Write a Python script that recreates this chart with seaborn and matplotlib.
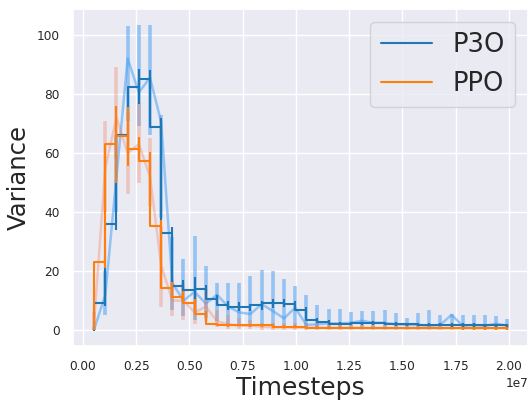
import numpy as np
import pandas as pd
import matplotlib
matplotlib.use("Agg")
import matplotlib.pyplot as plt
import seaborn as sns

# Logging interval of the training runs (2**19 environment steps per update)
timesteps = [524288 * k for k in range(1, 39)]

# Raw per-update variance (mean) with spread across seeds (low / high)
p3o_raw = [0.3, 12, 52, 92, 80.5, 85.5, 70.5, 16, 10, 13, 9, 12, 8, 6, 5.5,
           8.8, 6.5, 4.0, 7.6, 1.8, 2.0, 2.3, 2.3, 2.5, 3.2, 2.5, 2.5, 2.0,
           1.8, 1.8, 1.5, 1.8, 5.2, 1.5, 1.8, 1.5, 2.2, 1.5]
p3o_raw_lo = [0, 5, 40, 71, 69, 66, 38, 7, 4.7, 3.6, 4, 3, 1.4, 1.5, 1.5,
              1.5, 1.5, 1, 1, 0.8, 0.8, 0.8, 0.8, 0.8, 0.8, 0.8, 0.8, 0.8,
              0.8, 0.8, 0.8, 0.8, 0.8, 0.8, 0.8, 0.8, 0.8, 0.8]
p3o_raw_hi = [1, 20, 66, 103, 103.5, 103.5, 73, 31.7, 24, 32, 21.6, 16, 16,
              16, 18.5, 20.5, 20, 17.5, 15, 12, 8.4, 7.1, 7.1, 6, 6.6, 6.5,
              6.8, 5.8, 4, 5.7, 6.8, 5.1, 5.4, 5.1, 5.2, 5.1, 4.7, 3.8]

ppo_raw = [3, 55, 72, 60, 63, 52, 22, 10, 10, 6, 8, 3, 2, 1.5, 1.5, 1.2,
           1.0, 1.0, 0.9, 0.9, 0.8, 0.8, 0.8, 0.8, 0.8, 0.7, 0.7, 0.7, 0.7,
           0.7, 0.7, 0.7, 0.7, 0.7, 0.7, 0.7, 0.7, 0.7]
ppo_raw_lo = [0, 40, 58, 46, 50, 42, 8, 4.7, 3.6, 2, 3, 1, 0.5, 0.5, 0.3,
              0.2, 0.2, 0.2, 0.2, 0.2, 0.2, 0.2, 0.2, 0.2, 0.2, 0.2, 0.2,
              0.2, 0.2, 0.2, 0.2, 0.2, 0.2, 0.2, 0.2, 0.2, 0.2, 0.2]
ppo_raw_hi = [6, 71, 89, 74, 77, 65, 35, 17, 16, 12, 14, 7, 5, 4, 3.5, 2.5,
              2.5, 2.5, 2.3, 2.3, 2.2, 2.2, 2.2, 2.0, 2.0, 2.0, 2.0, 2.0,
              2.0, 2.0, 2.0, 2.0, 2.0, 2.0, 2.0, 2.0, 2.0, 2.0]

# Aggregated variance over all seeds, with its (small) spread
p3o_agg = [0, 9.2, 36, 66, 82.5, 85, 68.7, 33, 15, 13.6, 13.8, 10.4, 8.4,
           8.0, 7.7, 8.5, 9.1, 9.2, 8.8, 6.8, 3.4, 2.8, 2.2, 2.2, 2.3, 2.4,
           2.3, 2.1, 2.0, 2.0, 1.9, 1.9, 1.8, 1.7, 1.7, 1.6, 1.6, 1.6]
p3o_agg_err = [0.3, 1, 2, 3, 6, 3, 3, 2, 2, 4.5, 1.5, 1.5, 1.5, 1.5, 1.2,
               1.5, 1.5, 1.5, 1.2, 1, 0.8, 0.6, 0.6, 0.6, 0.6, 0.6, 0.6,
               0.6, 0.6, 0.6, 0.6, 0.6, 0.6, 0.6, 0.6, 0.6, 0.6, 0.6]
ppo_agg = [1.5, 23, 63, 65.7, 61.5, 57.3, 35.2, 14.3, 11.2, 9.2, 5.4, 2.1,
           1.6, 1.7, 1.6, 1.6, 1.6, 1.2, 1.2, 1.0, 0.9, 0.9, 0.9, 0.8, 0.8,
           0.8, 0.8, 0.7, 0.7, 0.7, 0.7, 0.7, 0.7, 0.6, 0.6, 0.6, 0.6, 0.6]
ppo_agg_err = [1.5, 2, 13, 10, 4, 3, 2, 2, 2, 1.5, 1, 0.5, 0.4, 0.4, 0.4,
               0.4, 0.4, 0.4, 0.4, 0.4, 0.4, 0.4, 0.4, 0.4, 0.4, 0.4, 0.4,
               0.4, 0.4, 0.4, 0.4, 0.4, 0.4, 0.4, 0.4, 0.4, 0.4, 0.4]

algorithms = ["P3O", "PPO"]
dark_colors = {"P3O": "#1f77b4", "PPO": "#ff7f0e"}
light_colors = {"P3O": "#3d9bf5", "PPO": "#f08060"}
light_alpha = {"P3O": 0.5, "PPO": 0.35}

sns.set_theme(style="darkgrid")
plt.rcParams["font.family"] = ["DejaVu Sans"]

fig = plt.figure(figsize=(5.28, 4.0), dpi=100)
ax = fig.add_axes([0.1392, 0.134, 0.8608, 0.843])

raw = {"P3O": (p3o_raw, p3o_raw_lo, p3o_raw_hi),
       "PPO": (ppo_raw, ppo_raw_lo, ppo_raw_hi)}
agg = {"P3O": (p3o_agg, p3o_agg_err), "PPO": (ppo_agg, ppo_agg_err)}

# Raw curves with seed spread, drawn faint underneath
for algo in algorithms:
    mean, lo, hi = raw[algo]
    sns.lineplot(x=timesteps, y=mean, ax=ax, color=light_colors[algo],
                 alpha=light_alpha[algo], linewidth=1.8, legend=False)
    ax.vlines(timesteps, lo, hi, color=light_colors[algo],
              alpha=light_alpha[algo], linewidth=2.6)

# Aggregated step curves on top
agg_df = pd.concat([
    pd.DataFrame({"Timesteps": timesteps, "Variance": agg[a][0], "algo": a})
    for a in algorithms
], ignore_index=True)
sns.lineplot(data=agg_df, x="Timesteps", y="Variance", hue="algo",
             hue_order=algorithms, palette=dark_colors, drawstyle="steps-pre",
             linewidth=1.5, ax=ax)
for algo in algorithms:
    vals, err = agg[algo]
    vals = np.asarray(vals)
    err = np.asarray(err)
    ax.vlines(timesteps, vals - err, vals + err, color=dark_colors[algo],
              linewidth=1.5)

ax.set_yticks([0, 20, 40, 60, 80, 100])
ax.set_xticks([0, 2.5e6, 5e6, 7.5e6, 1e7, 1.25e7, 1.5e7, 1.75e7, 2e7])
ax.tick_params(axis="both", labelsize=8.7, pad=4)
ax.xaxis.get_offset_text().set_fontsize(8.7)
ax.set_xlabel("Timesteps", fontsize=18, labelpad=2)
ax.set_ylabel("Variance", fontsize=17.5, labelpad=4)

handles, labels = ax.get_legend_handles_labels()
ax.legend(handles=handles[:2], labels=algorithms, loc="upper right",
          fontsize=18.5, handlelength=2.0, borderaxespad=0.5)

fig.savefig("out.png", dpi=100)
